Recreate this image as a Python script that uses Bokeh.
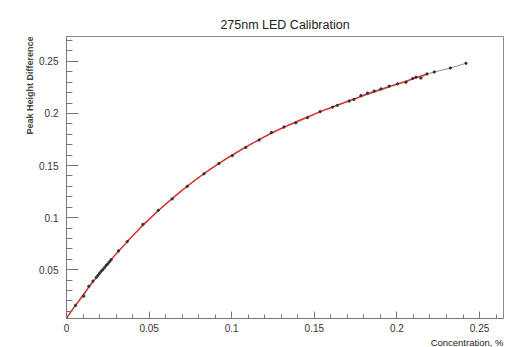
import numpy as np
from bokeh.plotting import figure
from bokeh.models import Range1d, FixedTicker, Title, ColumnDataSource
from bokeh.embed import file_html
from bokeh.resources import INLINE

# Calibration measurements: concentration (%) vs. peak height difference
concentration = [0.0, 0.0055, 0.0105, 0.0135, 0.016, 0.018, 0.019, 0.020, 0.021,
                 0.022, 0.023, 0.024, 0.025, 0.026, 0.027, 0.0315, 0.0368, 0.0462,
                 0.0556, 0.064, 0.0731, 0.0832, 0.0923, 0.1004, 0.1085, 0.1166,
                 0.124, 0.1317, 0.1388, 0.1459, 0.1535, 0.161, 0.164, 0.1711,
                 0.174, 0.1782, 0.1822, 0.1862, 0.1903, 0.1953, 0.2004, 0.2055,
                 0.2095, 0.2115, 0.2145, 0.2182, 0.2226, 0.2323, 0.2418]
peak_height = [0.003, 0.0157, 0.0246, 0.034, 0.039, 0.0425, 0.0445, 0.0465, 0.0485,
               0.050, 0.052, 0.054, 0.0555, 0.0575, 0.0595, 0.068, 0.077, 0.0935,
               0.107, 0.118, 0.130, 0.142, 0.152, 0.1595, 0.1674, 0.1745,
               0.1817, 0.187, 0.191, 0.196, 0.2017, 0.206, 0.2078, 0.2119,
               0.2135, 0.2171, 0.2195, 0.2215, 0.2236, 0.2262, 0.2285, 0.230,
               0.2335, 0.2348, 0.234, 0.2379, 0.2398, 0.2436, 0.2482]

# Upper end of the fitted interval
fit_max = 0.219

x_ticks = [0.0, 0.05, 0.1, 0.15, 0.2, 0.25]
x_tick_labels = ["0", "0.05", "0.1", "0.15", "0.2", "0.25"]
y_ticks = [0.05, 0.1, 0.15, 0.2, 0.25]
y_tick_labels = ["0.05", "0.1", "0.15", "0.2", "0.25"]

FONT = "Liberation Sans"

x = np.array(concentration)
y = np.array(peak_height)

# Polynomial fit over the fitted interval
mask = x <= fit_max
coef = np.polyfit(x[mask], y[mask], 3)
fx = np.linspace(0.0, fit_max, 200)
fy = np.polyval(coef, fx)

p = figure(width=506, height=347, output_backend="svg", toolbar_location=None,
           x_range=Range1d(0.0, 0.2645), y_range=Range1d(0.0031, 0.2739),
           min_border_left=66, min_border_right=3, min_border_top=36,
           min_border_bottom=28)

p.title.text = "275nm LED Calibration"
p.title.align = "center"
p.title.text_font = FONT
p.title.text_font_size = "12.5px"
p.title.text_font_style = "normal"
p.title.text_color = "#222222"

p.xgrid.visible = False
p.ygrid.visible = False
p.outline_line_color = "#8a8a8a"
p.outline_line_width = 1

x_minor = [round(0.01 * i, 2) for i in range(0, 27) if i % 5 != 0]
y_minor = [round(0.01 * i, 2) for i in range(1, 28) if i % 5 != 0]

xa = p.xaxis[0]
xa.ticker = FixedTicker(ticks=x_ticks, minor_ticks=x_minor)
xa.major_label_overrides = dict(zip(x_ticks, x_tick_labels))
ya = p.yaxis[0]
ya.ticker = FixedTicker(ticks=y_ticks, minor_ticks=y_minor)
ya.major_label_overrides = dict(zip(y_ticks, y_tick_labels))

for ax in (xa, ya):
    ax.axis_line_color = "#777777"
    ax.major_tick_line_color = "#777777"
    ax.minor_tick_line_color = "#777777"
    ax.major_tick_out = 0
    ax.minor_tick_out = 0
    ax.major_label_text_font = FONT
    ax.major_label_text_font_size = "10px"
    ax.major_label_text_color = "#333333"

xa.major_tick_in = 7
xa.minor_tick_in = 4
xa.major_label_standoff = 5
ya.major_tick_in = 12
ya.minor_tick_in = 6
ya.major_label_standoff = 8

xlabel = Title(text="Concentration, %", align="right", text_font=FONT,
               text_font_size="9.5px", text_font_style="normal",
               text_color="#222222", standoff=0, offset=0)
p.add_layout(xlabel, "below")

ylabel = Title(text="Peak Height Difference", align="right", text_font=FONT,
               text_font_size="9px", text_font_style="bold",
               text_color="#444444", standoff=4, offset=0)
p.add_layout(ylabel, "left")

src = ColumnDataSource(dict(x=concentration, y=peak_height))
p.line("x", "y", source=src, line_color="#8c8c8c", line_width=1)
p.line(fx, fy, line_color="#e0302a", line_width=1.4)
p.scatter("x", "y", source=src, size=2.3, marker="circle",
          fill_color="#333333", line_color="#333333")

open("out.html", "w").write(file_html(p, INLINE))
